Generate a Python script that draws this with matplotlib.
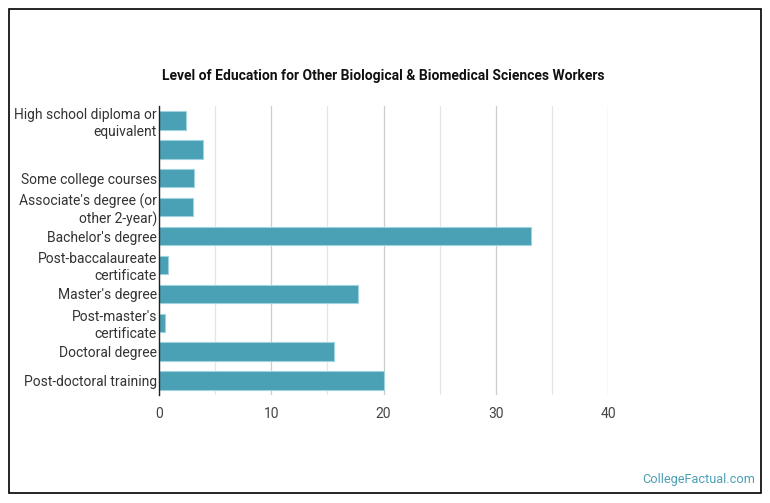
import matplotlib
matplotlib.use("Agg")
import matplotlib.pyplot as plt
from matplotlib.patches import Rectangle

categories = [
    "High school diploma or\nequivalent",
    "",
    "Some college courses",
    "Associate's degree (or\nother 2-year)",
    "Bachelor's degree",
    "Post-baccalaureate\ncertificate",
    "Master's degree",
    "Post-master's\ncertificate",
    "Doctoral degree",
    "Post-doctoral training",
]
values = [2.4, 3.9, 3.1, 3.0, 33.1, 0.8, 17.7, 0.5, 15.6, 20.0]
xticks = [0, 10, 20, 30, 40]
title = "Level of Education for Other Biological & Biomedical Sciences Workers"

plt.rcParams['font.family'] = ['Roboto', 'DejaVu Sans']

W, H = 770, 503
fig = plt.figure(figsize=(W / 100, H / 100), dpi=100)
ax = fig.add_axes([159 / W, (H - 395) / H, (608 - 159) / W, (395 - 106) / H])

y = list(range(len(categories)))
ax.barh(y, values, height=0.64, color="#4aa0b4", edgecolor="#9fd3df", linewidth=0.8, zorder=3)
ax.set_ylim(len(categories) - 0.5, -0.5)
ax.set_xlim(0, 40)

ax.set_yticks(y)
ax.set_yticklabels(categories, fontsize=10, color="#333333", linespacing=1.25)
ax.set_xticks(xticks)
ax.set_xticklabels([str(v) for v in xticks], fontsize=10, color="#444444")
ax.set_xticks([5, 15, 25, 35], minor=True)
ax.tick_params(axis="y", length=0, pad=1.5)
ax.tick_params(axis="x", length=0, pad=9)
ax.tick_params(axis="x", which="minor", length=0)
ax.grid(axis="x", which="major", color="#cccccc", linewidth=0.9, zorder=0)
ax.grid(axis="x", which="minor", color="#e6e6e6", linewidth=0.9, zorder=0)

for s in ["top", "right", "bottom"]:
    ax.spines[s].set_visible(False)
ax.spines["left"].set_color("#222222")
ax.spines["left"].set_linewidth(1.0)
ax.spines["left"].set_zorder(4)

fig.text(383.5 / W, 1 - 76 / H, title, ha="center", va="center",
         fontsize=10, fontweight="bold", color="#111111")
fig.text(755 / W, 1 - 480 / H, "CollegeFactual.com", ha="right", va="center",
         fontsize=9.2, color="#4aa0b4")

fig.patches.append(Rectangle((8.5 / W, 1 - 493 / H), (761 - 8.5) / W, (493 - 8.5) / H,
                             transform=fig.transFigure, fill=False,
                             edgecolor="black", linewidth=1.2))

fig.savefig("out.png", dpi=100)
